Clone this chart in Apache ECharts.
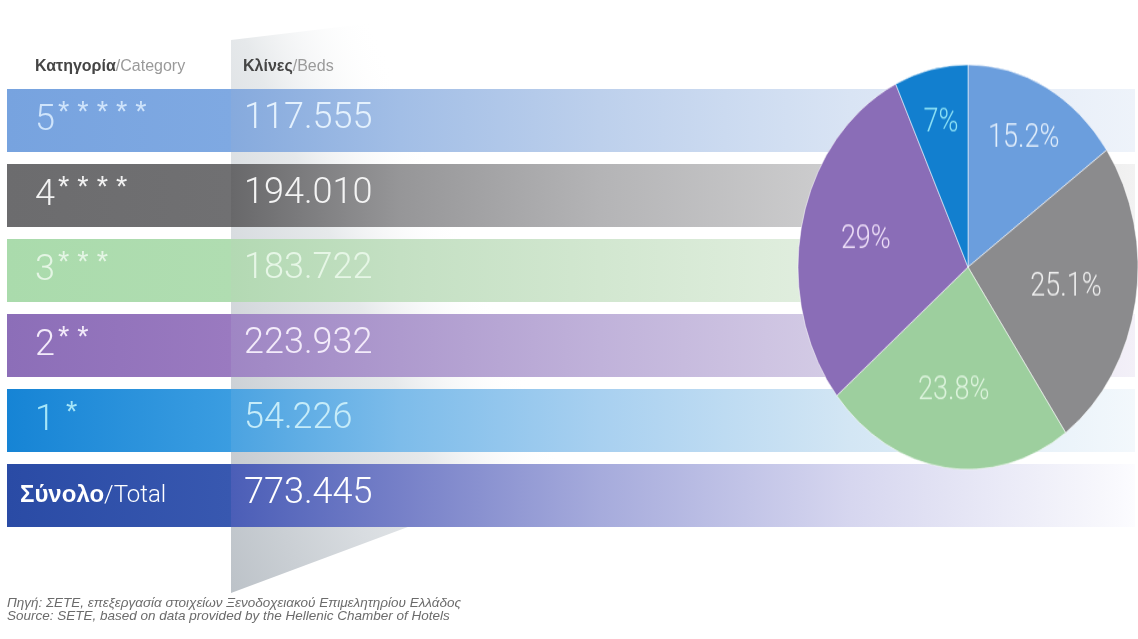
<!DOCTYPE html>
<html>
<head>
<meta charset="utf-8">
<script src="https://cdn.jsdelivr.net/npm/echarts@6/dist/echarts.min.js"></script>
<style>
  html, body { margin: 0; padding: 0; background: #ffffff; }
  #stage { position: relative; width: 1138px; height: 639px; overflow: hidden; background: #ffffff; }
  #table { position: absolute; left: 0; top: 0; width: 1138px; height: 639px; }
  /* the share pie is drawn as an upright ellipse */
  #share { position: absolute; left: 790px; top: 60px; width: 348px; height: 350px;
           transform: scaleY(1.19); transform-origin: 0 0; }
</style>
</head>
<body>
<div id="stage">
  <div id="table"></div>
  <div id="share"></div>
</div>
<script>
// ---- data ----
const categories = ['5*****', '4****', '3***', '2**', '1 *', 'Σύνολο/Total'];
const beds = [117555, 194010, 183722, 223932, 54226, 773445];
const sharePercent = [15.2, 25.1, 23.8, 29, 7];
const rowSpan = [1, 1, 1, 1, 1, 1];           // every table row runs the full width
const headers = [['Κατηγορία', '/Category'], ['Κλίνες', '/Beds']];
const sourceLines = [
  'Πηγή: ΣΕΤΕ, επεξεργασία στοιχείων Ξενοδοχειακού Επιμελητηρίου Ελλάδος',
  'Source: SETE, based on data provided by the Hellenic Chamber of Hotels'
];

// ---- styles ----
const LIGHT = 'Roboto, "Open Sans", "Liberation Sans", sans-serif';
const SANS = '"Liberation Sans", Arial, Helvetica, sans-serif';
const BAR_X0 = 7, BAR_X1 = 1135;

// colour stops along each row, given as [x pixel, colour]
const rowGradients = [
  [[7, '#77a3df'], [231, '#7fa9e2'], [231, '#86aadd'], [400, '#a2bee6'], [600, '#bdd0ec'], [850, '#d9e4f4'], [1135, '#eef3fa']],
  [[7, '#6c6c6e'], [231, '#707072'], [231, '#68686a'], [400, '#969698'], [600, '#b4b4b6'], [850, '#cfcfd0'], [1135, '#f2f2f2']],
  [[7, '#aadbac'], [231, '#b0ddb1'], [231, '#b3d9b3'], [400, '#c4e0c3'], [600, '#d2e7d0'], [850, '#e3efe1'], [1135, '#f6faf5']],
  [[7, '#8c6eb8'], [231, '#9a7ac0'], [231, '#9f86c4'], [400, '#ae9ace'], [600, '#c0b2da'], [850, '#d5cde6'], [1135, '#f3f0f8']],
  [[7, '#1684d5'], [231, '#3b9de1'], [231, '#4ba3e1'], [400, '#7dbcea'], [600, '#a8d0f0'], [850, '#d3e6f4'], [1135, '#f3f8fc']],
  [[7, '#2a4ba5'], [231, '#3858b0'], [231, '#4b5eb7'], [400, '#7680c8'], [600, '#a6abdc'], [850, '#d6d6ef'], [1100, '#f7f7fc'], [1135, '#fcfcff']]
];
const categoryColors = ['#cfe4fb', '#f2f2f2', '#e4f5e4', '#f3ebfa', '#a6e6f8', '#ffffff'];
const valueColors = ['#e4f1fd', '#f4f4f4', '#e6f6e6', '#f3ebfa', '#c6ecf9', '#ffffff'];
const sliceColors = ['#6b9edd', '#8b8b8d', '#9dcf9e', '#8a6db7', '#127fcf'];
const sliceTextColors = ['#e2eefb', '#efefef', '#dcf3dc', '#eedff8', '#8fe3f6'];
const sliceLabelReach = [1.38, 1.13, 1.2, 1.19, 1.41];

function gradientFor(stops) {
  return new echarts.graphic.LinearGradient(0, 0, 1, 0,
    stops.map(([x, c]) => ({ offset: (x - BAR_X0) / (BAR_X1 - BAR_X0), color: c })));
}
function formatBeds(n) {
  return String(n).replace(/\B(?=(\d{3})+(?!\d))/g, '.');
}
function categoryRich(value) {
  const m = value.match(/^(\d)(\s?)(\*+)$/);
  if (m) {
    return '{num|' + m[1] + '}{star|' + (m[2] ? ' ' : '') + m[3].split('').join(' ') + '}';
  }
  const parts = value.split('/');
  return '{bold|' + parts[0] + '}{thin|/' + parts[1] + '}';
}

// ---- table of rows ----
const table = echarts.init(document.getElementById('table'), null, { renderer: 'canvas' });
table.setOption({
  animation: false,
  backgroundColor: '#ffffff',
  grid: { left: BAR_X0, right: 1138 - BAR_X1, top: 83, height: 450 },
  xAxis: { type: 'value', min: 0, max: 1, show: false },
  yAxis: {
    type: 'category',
    inverse: true,
    data: categories,
    z: 10,
    axisLine: { show: false },
    axisTick: { show: false },
    splitLine: { show: false },
    axisLabel: {
      inside: true,
      margin: 13,
      color: (value, index) => categoryColors[index],
      formatter: categoryRich,
      rich: {
        num: { fontFamily: LIGHT, fontWeight: 300, fontSize: 36, padding: [0, 0, 0, 15] },
        star: { fontFamily: SANS, fontWeight: 'normal', fontSize: 29, padding: [0, 0, 16, 3] },
        bold: { fontFamily: SANS, fontWeight: 'bold', fontSize: 24 },
        thin: { fontFamily: LIGHT, fontWeight: 300, fontSize: 24 }
      }
    }
  },
  series: [{
    type: 'bar',
    barWidth: 63,
    silent: true,
    data: rowSpan.map((v, i) => ({
      value: v,
      itemStyle: { color: gradientFor(rowGradients[i]) },
      label: { color: valueColors[i] }
    })),
    label: {
      show: true,
      position: [237, '50%'],
      align: 'left',
      verticalAlign: 'middle',
      offset: [0, -2],
      fontFamily: LIGHT,
      fontWeight: 300,
      fontSize: 36,
      formatter: p => formatBeds(beds[p.dataIndex])
    }
  }],
  graphic: [
    {
      type: 'polygon',
      z: 1,
      silent: true,
      shape: { points: [[231, 40], [1000, -52], [1000, 306], [231, 593]] },
      style: {
        fill: new echarts.graphic.LinearGradient(231, 593, 560, 450, [
          { offset: 0, color: '#bcc2c8' },
          { offset: 0.4, color: '#d8dce0' },
          { offset: 0.65, color: '#e6e9eb' },
          { offset: 1, color: 'rgba(255,255,255,0)' }
        ], true)
      }
    },
    ...headers.map((h, i) => ({
      type: 'text',
      z: 10,
      x: i === 0 ? 35 : 243,
      y: 67,
      style: {
        text: '{b|' + h[0] + '}{r|' + h[1] + '}',
        verticalAlign: 'middle',
        align: 'left',
        rich: {
          b: { fontFamily: SANS, fontWeight: 'bold', fontSize: 16, fill: '#454545' },
          r: { fontFamily: SANS, fontSize: 16, fill: '#9a9a9a' }
        }
      }
    })),
    ...sourceLines.map((t, i) => ({
      type: 'text',
      z: 10,
      x: 7,
      y: 603 + i * 13,
      style: {
        text: t,
        verticalAlign: 'middle',
        align: 'left',
        font: 'italic 13.5px ' + SANS,
        fill: '#6b6b6b'
      }
    }))
  ]
});

// ---- share pie ----
const PIE_CX = 178, PIE_CY = 174;
const share = echarts.init(document.getElementById('share'), null, { renderer: 'canvas' });
share.setOption({
  animation: false,
  series: [{
    type: 'pie',
    center: [PIE_CX, PIE_CY],
    radius: 170,
    startAngle: 90,
    clockwise: true,
    avoidLabelOverlap: false,
    silent: true,
    itemStyle: { borderColor: 'rgba(255,255,255,0.55)', borderWidth: 1 },
    label: {
      show: true,
      position: 'inside',
      fontFamily: LIGHT,
      fontWeight: 300,
      fontSize: 27,
      formatter: p => sharePercent[p.dataIndex] + '%'
    },
    labelLine: { show: false },
    labelLayout: params => {
      const r = params.labelRect;
      const k = sliceLabelReach[params.dataIndex] - 1;
      return {
        dx: (r.x + r.width / 2 - PIE_CX) * k,
        dy: (r.y + r.height / 2 - PIE_CY) * k
      };
    },
    data: sharePercent.map((v, i) => ({
      value: v,
      name: categories[i],
      itemStyle: { color: sliceColors[i] },
      label: { color: sliceTextColors[i] }
    }))
  }]
});
</script>
</body>
</html>
